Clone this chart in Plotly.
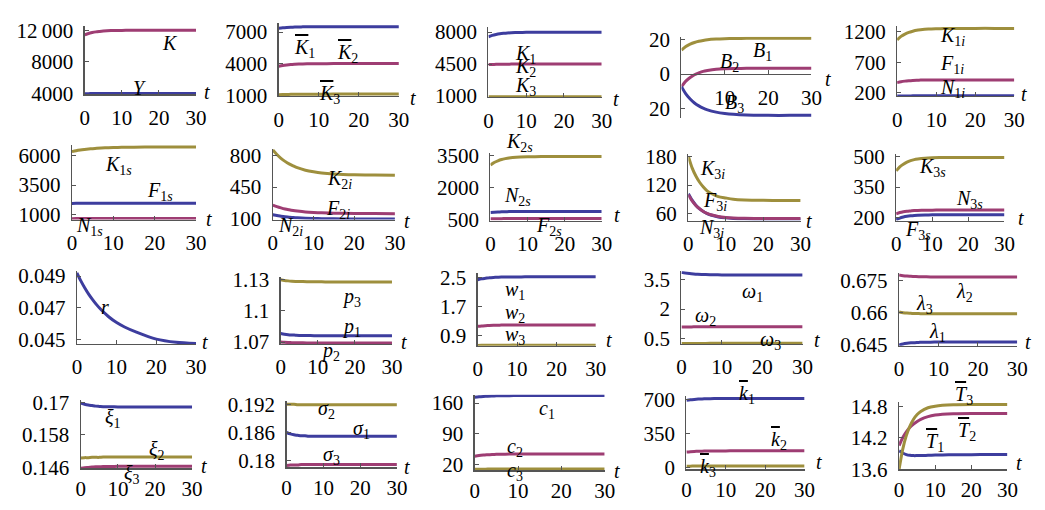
import plotly.graph_objects as go

W, H = 1045, 510
FONT = "Liberation Serif"
BLUE = "#3d3d9e"
MAG = "#9e3d73"
OLV = "#9e8f3d"
AX = "#555555"
TICKSIZE = 21
LABSIZE = 20

# time grid (t)
t = [0, 1, 2, 3, 4, 5, 6, 8, 10, 12, 15, 20, 25, 30]

# ---- row 1 ----
K = [11400, 11580, 11700, 11790, 11850, 11900, 11930, 11965, 11980, 11990, 11997, 12000, 12000, 12000]
Y = [3960, 3972, 3980, 3986, 3990, 3993, 3995, 3997, 3998, 3999, 4000, 4000, 4000, 4000]
Kbar1 = [7360, 7405, 7435, 7458, 7472, 7485, 7492, 7501, 7505, 7508, 7509, 7510, 7510, 7510]
Kbar2 = [3750, 3825, 3875, 3912, 3938, 3958, 3970, 3985, 3992, 3996, 3999, 4000, 4000, 4000]
Kbar3 = [1040, 1058, 1070, 1079, 1085, 1090, 1093, 1096, 1098, 1099, 1100, 1100, 1100, 1100]
K1 = [7480, 7630, 7730, 7805, 7855, 7895, 7920, 7950, 7965, 7972, 7977, 7980, 7980, 7980]
K2 = [4440, 4458, 4470, 4479, 4485, 4490, 4493, 4496, 4498, 4499, 4500, 4500, 4500, 4500]
K3 = [925, 928, 930, 931, 932, 933, 934, 934, 935, 935, 935, 935, 935, 935]
B1 = [14.0, 16.0, 17.4, 18.4, 19.1, 19.6, 20.0, 20.4, 20.6, 20.7, 20.8, 20.8, 20.8, 20.8]
B2 = [-7.3, -4.1, -2.0, -0.35, 0.7, 1.6, 2.1, 2.8, 3.1, 3.24, 3.35, 3.4, 3.4, 3.4]
B3 = [-7.3, -11.5, -14.5, -16.8, -18.5, -19.8, -20.8, -22.1, -22.9, -23.4, -23.8, -24.0, -24.0, -24.0]
K1i = [1070, 1127, 1165, 1193, 1212, 1228, 1237, 1249, 1254, 1257, 1259, 1260, 1260, 1260]
F1i = [360, 375, 385, 392, 397, 400, 402, 404, 405, 405, 405, 405, 405, 405]
N1i = [138, 139, 140, 140, 141, 141, 141, 141, 141, 141, 141, 141, 141, 141]

# ---- row 2 ----
K1s = [6320, 6392, 6452, 6500, 6540, 6572, 6600, 6640, 6666, 6684, 6700, 6713, 6717, 6719]
F1s = [1960, 1962, 1964, 1966, 1967, 1968, 1969, 1970, 1970, 1970, 1970, 1970, 1970, 1970]
N1s = [675, 676, 677, 678, 679, 680, 680, 680, 680, 680, 680, 680, 680, 680]
K2i = [860, 810, 768, 734, 706, 684, 664, 636, 618, 605, 594, 585, 582, 580]
F2i = [250, 233, 219, 207, 198, 190, 184, 174, 168, 164, 160, 157, 156, 155]
N2i = [142, 134, 126, 120, 116, 112, 109, 104, 101, 99, 97, 96, 95, 95]
K2s = [3050, 3170, 3250, 3310, 3350, 3382, 3402, 3426, 3438, 3444, 3448, 3450, 3450, 3450]
N2s = [830, 845, 855, 862, 868, 872, 874, 877, 879, 880, 880, 880, 880, 880]
F2s = [540, 541, 542, 543, 544, 545, 545, 545, 545, 545, 545, 545, 545, 545]
K3i = [180, 156, 139, 126, 116, 108, 103, 96, 93, 90.5, 89, 88.2, 88, 88]
F3i = [100, 87, 77.5, 70.5, 65, 61, 58, 54.5, 52.5, 51.4, 50.6, 50.1, 50, 50]
N3i = [102, 88.5, 78, 70.5, 65, 60.5, 57.5, 53.5, 51.5, 50.4, 49.6, 49.1, 49, 49]
K3s = [429, 449, 462, 472, 479, 484, 487, 491, 493, 494, 495, 495, 495, 495]
N3s = [219, 225, 229, 231.5, 233, 234.5, 235.3, 236.3, 236.7, 237, 237, 237, 237, 237]
F3s = [190, 198, 203, 206.5, 209, 211, 212, 213.2, 213.6, 213.8, 214, 214, 214, 214]

# ---- row 3 ----
r = [0.04920, 0.04869, 0.04824, 0.04784, 0.04749, 0.04717, 0.04689, 0.04642, 0.04605,
     0.04577, 0.04544, 0.04500, 0.04480, 0.04472]
p1 = [1.0783, 1.0776, 1.0771, 1.0768, 1.0766, 1.0764, 1.0763, 1.0762, 1.0761, 1.0760, 1.0760, 1.0760, 1.0760, 1.0760]
p2 = [1.0700, 1.0697, 1.0695, 1.0694, 1.0693, 1.0692, 1.0692, 1.0691, 1.0691, 1.0691, 1.0691, 1.0691, 1.0691, 1.0691]
p3 = [1.1300, 1.1294, 1.1290, 1.1287, 1.1285, 1.1284, 1.1283, 1.1282, 1.1281, 1.1280, 1.1280, 1.1280, 1.1280, 1.1280]
w1 = [2.45, 2.475, 2.49, 2.505, 2.513, 2.518, 2.522, 2.526, 2.528, 2.529, 2.53, 2.53, 2.53, 2.53]
w2 = [1.15, 1.162, 1.17, 1.176, 1.18, 1.183, 1.185, 1.187, 1.189, 1.19, 1.19, 1.19, 1.19, 1.19]
w3 = [0.620, 0.622, 0.623, 0.624, 0.625, 0.626, 0.626, 0.627, 0.627, 0.627, 0.627, 0.627, 0.627, 0.627]
omega1 = [3.89, 3.85, 3.82, 3.80, 3.785, 3.775, 3.768, 3.76, 3.755, 3.752, 3.75, 3.75, 3.75, 3.75]
omega2 = [1.07, 1.076, 1.08, 1.083, 1.085, 1.087, 1.088, 1.089, 1.09, 1.09, 1.09, 1.09, 1.09, 1.09]
omega3 = [0.230, 0.231, 0.232, 0.233, 0.233, 0.234, 0.234, 0.235, 0.235, 0.235, 0.235, 0.235, 0.235, 0.235]
lam1 = [0.6450, 0.6455, 0.6458, 0.6460, 0.6461, 0.6462, 0.6463, 0.6463, 0.6464, 0.6464, 0.6464, 0.6464, 0.6464, 0.6464]
lam2 = [0.6777, 0.6774, 0.6772, 0.6771, 0.6770, 0.6769, 0.6769, 0.6768, 0.6768, 0.6768, 0.6768, 0.6768, 0.6768, 0.6768]
lam3 = [0.6604, 0.6601, 0.6599, 0.6598, 0.6597, 0.6597, 0.6596, 0.6596, 0.6596, 0.6596, 0.6596, 0.6596, 0.6596, 0.6596]

# ---- row 4 ----
xi1 = [0.1697, 0.1693, 0.1690, 0.1688, 0.1686, 0.1685, 0.1684, 0.1684, 0.1683, 0.1683, 0.1683, 0.1683, 0.1683, 0.1683]
xi2 = [0.1495, 0.1496, 0.1496, 0.1497, 0.1497, 0.1497, 0.1498, 0.1498, 0.1498, 0.1498, 0.1498, 0.1498, 0.1498, 0.1498]
xi3 = [0.1457, 0.1459, 0.1460, 0.1461, 0.1462, 0.1462, 0.1463, 0.1463, 0.1464, 0.1464, 0.1464, 0.1464, 0.1464, 0.1464]
sig1 = [0.1860, 0.1857, 0.1855, 0.1854, 0.1853, 0.1853, 0.1852, 0.1852, 0.1852, 0.1852, 0.1852, 0.1852, 0.1852, 0.1852]
sig2 = [0.1920, 0.1920, 0.1920, 0.1919, 0.1919, 0.1919, 0.1919, 0.1919, 0.1919, 0.1919, 0.1919, 0.1919, 0.1919, 0.1919]
sig3 = [0.1790, 0.1791, 0.1791, 0.1791, 0.1792, 0.1792, 0.1792, 0.1792, 0.1792, 0.1792, 0.1792, 0.1792, 0.1792, 0.1792]
c1 = [173, 174.2, 175, 175.6, 176, 176.3, 176.5, 176.8, 176.9, 177, 177, 177, 177, 177]
c2 = [39, 40.5, 41.5, 42.2, 42.8, 43.2, 43.4, 43.7, 43.9, 44, 44, 44, 44, 44]
c3 = [9, 9.3, 9.5, 9.6, 9.7, 9.8, 9.8, 9.9, 9.9, 10, 10, 10, 10, 10]
kbar1 = [690, 696, 700, 703, 705, 706.5, 707.5, 708.8, 709.4, 709.7, 710, 710, 710, 710]
kbar2 = [158, 161.6, 164, 165.8, 167, 168, 168.6, 169.3, 169.6, 169.8, 170, 170, 170, 170]
kbar3 = [12, 12.6, 13, 13.3, 13.5, 13.7, 13.8, 13.9, 14, 14, 14, 14, 14, 14]
T1 = [13.95, 13.91, 13.88, 13.865, 13.86, 13.86, 13.86, 13.865, 13.87, 13.873, 13.876, 13.878, 13.88, 13.88]
T2 = [14.05, 14.20, 14.31, 14.40, 14.46, 14.51, 14.55, 14.60, 14.63, 14.645, 14.655, 14.66, 14.66, 14.66]
T3 = [13.60, 13.98, 14.24, 14.42, 14.55, 14.64, 14.70, 14.77, 14.80, 14.815, 14.825, 14.83, 14.83, 14.83]


def ov(s):
    return '<span style="text-decoration:overline">' + s + "</span>"


def sub(main, s):
    return main + "<sub>" + s + "</sub>"


def I(s):
    return "<i>" + s + "</i>"


# panel layout (pixel geometry) and content
panels = [
    dict(x0=81, x30=194, top=17, bot=88, yr=[3900, 12500],
         yt=[4000, 8000, 12000], ytt=["4000", "8000", "12\u2009000"],
         series=[(Y, BLUE), (K, MAG)],
         labels=[(I("K"), 168, 35), (I("Y"), 137, 81)], tlab=(205, 86)),
    dict(x0=278, x30=400, top=14, bot=90, yr=[910, 7820],
         yt=[1000, 4000, 7000], ytt=["1000", "4000", "7000"],
         series=[(Kbar1, BLUE), (Kbar2, MAG), (Kbar3, OLV)],
         labels=[(sub(ov(I("K")), "1"), 304, 40), (sub(ov(I("K")), "2"), 348, 45),
                 (sub(ov(I("K")), "3"), 330, 88)], tlab=(414, 92)),
    dict(x0=491, x30=606, top=18, bot=91, yr=[895, 8522],
         yt=[1000, 4500, 8000], ytt=["1000", "4500", "8000"],
         series=[(K1, BLUE), (K2, MAG), (K3, OLV)],
         labels=[(sub(I("K"), "1"), 529, 46), (sub(I("K"), "2"), 529, 60),
                 (sub(I("K"), "3"), 529, 80)], tlab=(621, 93)),
    dict(x0=687, x30=819, top=28, bot=113, yr=[-25.6, 21.7], xcross=0, xt=[10, 20, 30],
         yt=[-20, 0, 20], ytt=["20", "0", "20"],
         series=[(B1, OLV), (B2, MAG), (B3, BLUE)],
         labels=[(sub(I("B"), "1"), 769, 43), (sub(I("B"), "2"), 736, 55),
                 (sub(I("B"), "3"), 741, 98)], tlab=(836, 72)),
    dict(x0=906, x30=1025, top=17, bot=90, yr=[136.5, 1295],
         yt=[200, 700, 1200], ytt=["200", "700", "1200"],
         series=[(K1i, OLV), (F1i, MAG), (N1i, BLUE)],
         labels=[(sub(I("K"), "1" + I("i")), 962, 28), (sub(I("F"), "1" + I("i")), 962, 57),
                 (sub(I("N"), "1" + I("i")), 962, 82)], tlab=(1035, 88)),
    # row 2
    dict(x0=68, x30=194, top=141, bot=219, yr=[597, 6887],
         yt=[1000, 3500, 6000], ytt=["1000", "3500", "6000"],
         series=[(K1s, OLV), (F1s, BLUE), (N1s, MAG)],
         labels=[(sub(I("K"), "1" + I("s")), 115, 162), (sub(I("F"), "1" + I("s")), 157, 190),
                 (sub(I("N"), "1" + I("s")), 86, 226)], tlab=(207, 218)),
    dict(x0=272, x30=396, top=145, bot=219, yr=[89.4, 874],
         yt=[100, 450, 800], ytt=["100", "450", "800"],
         series=[(K2i, OLV), (F2i, MAG), (N2i, BLUE)],
         labels=[(sub(I("K"), "2" + I("i")), 340, 177), (sub(I("F"), "2" + I("i")), 338, 208),
                 (sub(I("N"), "2" + I("i")), 290, 226)], tlab=(408, 220)),
    dict(x0=493, x30=606, top=149, bot=220, yr=[455, 3634],
         yt=[500, 2000, 3500], ytt=["500", "2000", "3500"],
         series=[(K2s, OLV), (N2s, BLUE), (F2s, MAG)],
         labels=[(sub(I("K"), "2" + I("s")), 522, 138), (sub(I("N"), "2" + I("s")), 520, 195),
                 (sub(I("F"), "2" + I("s")), 552, 226)], tlab=(622, 214)),
    dict(x0=694, x30=808, top=150, bot=220, yr=[46, 186],
         yt=[60, 120, 180], ytt=["60", "120", "180"],
         series=[(K3i, OLV), (N3i, BLUE), (F3i, MAG)],
         labels=[(sub(I("K"), "3" + I("i")), 719, 167), (sub(I("F"), "3" + I("i")), 721, 200),
                 (sub(I("N"), "3" + I("i")), 717, 228)], tlab=(817, 220)),
    dict(x0=905, x30=1015, top=150, bot=220, yr=[186, 514],
         yt=[200, 350, 500], ytt=["200", "350", "500"],
         series=[(K3s, OLV), (N3s, MAG), (F3s, BLUE)],
         labels=[(sub(I("K"), "3" + I("s")), 942, 165), (sub(I("N"), "3" + I("s")), 979, 198),
                 (sub(I("F"), "3" + I("s")), 927, 230)], tlab=(1032, 217)),
    # row 3
    dict(x0=73, x30=194, top=273, bot=349, yr=[0.044697, 0.049303],
         yt=[0.045, 0.047, 0.049], ytt=["0.045", "0.047", "0.049"],
         series=[(r, BLUE)],
         labels=[(I("r"), 102, 310)], tlab=(203, 347)),
    dict(x0=280, x30=393, top=279, bot=349, yr=[1.06815, 1.13277],
         yt=[1.07, 1.1, 1.13], ytt=["1.07", "1.1", "1.13"],
         series=[(p3, OLV), (p1, BLUE), (p2, MAG)],
         labels=[(sub(I("p"), "3"), 352, 300), (sub(I("p"), "1"), 352, 332),
                 (sub(I("p"), "2"), 331, 357)], tlab=(405, 347)),
    dict(x0=480, x30=600, top=275, bot=351, yr=[0.6067, 2.633],
         yt=[0.9, 1.7, 2.5], ytt=["0.9", "1.7", "2.5"],
         series=[(w1, BLUE), (w2, MAG), (w3, OLV)],
         labels=[(sub(I("w"), "1"), 518, 293), (sub(I("w"), "2"), 518, 317),
                 (sub(I("w"), "3"), 518, 340)], tlab=(613, 345)),
    dict(x0=687, x30=810, top=273, bot=349, yr=[0.205, 3.943],
         yt=[0.5, 2, 3.5], ytt=["0.5", "2", "3.5"],
         series=[(omega1, BLUE), (omega2, MAG), (omega3, OLV)],
         labels=[(sub(I("ω"), "1"), 759, 295), (sub(I("ω"), "2"), 711, 320),
                 (sub(I("ω"), "3"), 777, 345)], tlab=(825, 345)),
    dict(x0=908, x30=1028, top=275, bot=351, yr=[0.6446, 0.67858],
         yt=[0.645, 0.66, 0.675], ytt=["0.645", "0.66", "0.675"],
         series=[(lam2, MAG), (lam3, OLV), (lam1, BLUE)],
         labels=[(sub(I("λ"), "2"), 974, 295), (sub(I("λ"), "3"), 934, 308),
                 (sub(I("λ"), "1"), 947, 337)], tlab=(1039, 347)),
    # row 4
    dict(x0=77, x30=190, top=408, bot=479, yr=[0.14565, 0.17071],
         yt=[0.146, 0.158, 0.17], ytt=["0.146", "0.158", "0.17"],
         series=[(xi1, BLUE), (xi2, OLV), (xi3, MAG)],
         labels=[(sub(I("ξ"), "1"), 110, 427), (sub(I("ξ"), "2"), 154, 460),
                 (sub(I("ξ"), "3"), 129, 485)], tlab=(202, 477)),
    dict(x0=286, x30=398, top=409, bot=478, yr=[0.1786, 0.1926],
         yt=[0.18, 0.186, 0.192], ytt=["0.18", "0.186", "0.192"],
         series=[(sig2, OLV), (sig1, BLUE), (sig3, MAG)],
         labels=[(sub(I("σ"), "2"), 326, 418), (sub(I("σ"), "1"), 362, 438),
                 (sub(I("σ"), "3"), 332, 466)], tlab=(408, 478)),
    dict(x0=477, x30=609, top=402, bot=481, yr=[7, 179],
         yt=[20, 90, 160], ytt=["20", "90", "160"],
         series=[(c1, BLUE), (c2, MAG), (c3, OLV)],
         labels=[(sub(I("c"), "1"), 550, 417), (sub(I("c"), "2"), 518, 457),
                 (sub(I("c"), "3"), 518, 482)], tlab=(622, 482)),
    dict(x0=692, x30=812, top=403, bot=480, yr=[-20, 739],
         yt=[0, 350, 700], ytt=["0", "350", "700"],
         series=[(kbar1, BLUE), (kbar2, MAG), (kbar3, OLV)],
         labels=[(sub(ov(I("k")), "1"), 754, 402), (sub(ov(I("k")), "2"), 786, 450),
                 (sub(ov(I("k")), "3"), 714, 478)], tlab=(827, 472)),
    dict(x0=908, x30=1018, top=410, bot=480, yr=[13.6, 14.873],
         yt=[13.6, 14.2, 14.8], ytt=["13.6", "14.2", "14.8"],
         series=[(T1, BLUE), (T2, MAG), (T3, OLV)],
         labels=[(sub(ov(I("T")), "3"), 974, 403), (sub(ov(I("T")), "2"), 977, 440),
                 (sub(ov(I("T")), "1"), 944, 452)], tlab=(1030, 473)),
]

fig = go.Figure()
layout = dict(width=W, height=H, margin=dict(l=0, r=0, t=0, b=0, pad=0),
              paper_bgcolor="white", plot_bgcolor="rgba(0,0,0,0)", showlegend=False,
              font=dict(family=FONT, size=LABSIZE, color="black"))
annotations = []

for i, p in enumerate(panels, start=1):
    s = "" if i == 1 else str(i)
    ybot = 1 - p["bot"] / H
    ytop = 1 - p["top"] / H
    bottom_row = i > 15
    xa = dict(domain=[p["x0"] / W, p["x30"] / W], range=[0, 30], anchor="y" + s,
              showline=True, linecolor=AX, linewidth=1.3, ticks="inside", ticklen=4,
              tickcolor=AX, tickwidth=1, tickvals=p.get("xt", [0, 10, 20, 30]),
              tickfont=dict(family=FONT, size=TICKSIZE, color="black"),
              ticklabelstandoff=1 if bottom_row else 4,
              showgrid=False, zeroline=False, fixedrange=True)
    if "xcross" in p:
        lo, hi = p["yr"]
        frac = (p["xcross"] - lo) / (hi - lo)
        xa["anchor"] = "free"
        xa["position"] = ybot + frac * (ytop - ybot)
    ya = dict(domain=[ybot, ytop], range=p["yr"], anchor="x" + s,
              showline=True, linecolor=AX, linewidth=1.3, ticks="inside", ticklen=4,
              tickcolor=AX, tickwidth=1, tickvals=p["yt"], ticktext=p["ytt"],
              tickfont=dict(family=FONT, size=TICKSIZE, color="black"), ticklabelstandoff=6,
              showgrid=False, zeroline=False, fixedrange=True)
    layout["xaxis" + s] = xa
    layout["yaxis" + s] = ya
    for vals, color in p["series"]:
        fig.add_trace(go.Scatter(x=t, y=vals, mode="lines",
                                 line=dict(color=color, width=3, shape="spline", smoothing=0.8),
                                 xaxis="x" + s, yaxis="y" + s, hoverinfo="skip", cliponaxis=False))
    for text, lx, ly in p["labels"]:
        annotations.append(dict(text=text, x=lx / W, y=1 - ly / H, xref="paper", yref="paper",
                                showarrow=False, xanchor="center", yanchor="middle",
                                font=dict(family=FONT, size=LABSIZE, color="black")))
    tx, ty = p["tlab"]
    annotations.append(dict(text="<i>t</i>", x=tx / W, y=1 - ty / H, xref="paper", yref="paper",
                            showarrow=False, xanchor="center", yanchor="middle",
                            font=dict(family=FONT, size=LABSIZE, color="black")))

layout["annotations"] = annotations
fig.update_layout(**layout)
fig.write_html("out.html", config={"displayModeBar": False, "staticPlot": True},
               post_script="document.body.style.margin='0';document.body.style.overflow='hidden';")
